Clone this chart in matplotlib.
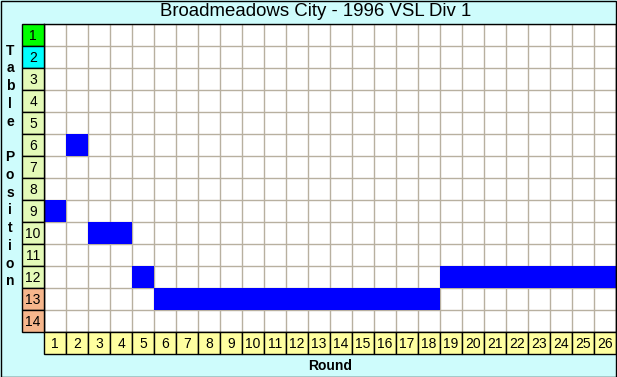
import numpy as np
import matplotlib.pyplot as plt
from matplotlib.patches import Rectangle

plt.rcParams['font.family'] = ['Liberation Sans', 'DejaVu Sans']

title = 'Broadmeadows City - 1996 VSL Div 1'
rounds = list(range(1, 27))
# ladder position after each round
positions = [9, 6, 10, 10, 12] + [13] * 13 + [12] * 8
table_rows = list(range(1, 15))
row_colors = ['#00ff00', '#00ffff'] + ['#e4fab8'] * 10 + ['#f6b68c'] * 2

W, H = 617, 377
bg = '#cefcfc'
grid_col = '#b8b0a0'

fig = plt.figure(figsize=(W / 100, H / 100), dpi=100)
fig.patch.set_facecolor(bg)

# main grid area in pixel terms
ax = fig.add_axes([44 / W, 1 - 332 / H, 572 / W, 308 / H])
ax.set_facecolor('white')
ax.set_xlim(0, len(rounds))
ax.set_ylim(len(table_rows), 0)
ax.set_xticks(range(len(rounds) + 1))
ax.set_yticks(range(len(table_rows) + 1))
ax.tick_params(length=0, labelbottom=False, labelleft=False)
ax.grid(True, color=grid_col, lw=1.0)
ax.set_axisbelow(True)
for s in ax.spines.values():
    s.set_color('black')
    s.set_linewidth(1.0)

# blue blocks for position held each round
ax.bar(np.array(rounds) - 1, 1, bottom=np.array(positions) - 1, width=1,
       align='edge', color='#0000ff', zorder=2)

# coloured position cells on the left
for p, c in zip(table_rows, row_colors):
    ax.add_patch(Rectangle((-1, p - 1), 1, 1, facecolor=c, edgecolor='black',
                           lw=1.0, clip_on=False, zorder=3))
    ax.text(-0.5, p - 0.45, str(p), ha='center', va='center', fontsize=10,
            clip_on=False, zorder=4)

# round number cells along the bottom
for r in rounds:
    ax.add_patch(Rectangle((r - 1, len(table_rows)), 1, 1, facecolor='#ffffa0',
                           edgecolor='black', lw=1.0, clip_on=False, zorder=3))
    ax.text(r - 0.5, len(table_rows) + 0.55, str(r), ha='center', va='center',
            fontsize=10, clip_on=False, zorder=4)

fig.text(316 / W, 1 - 12 / H, title, ha='center', va='center', fontsize=13.4)
fig.text(330 / W, 1 - 366 / H, 'Round', ha='center', va='center',
         fontsize=10, fontweight='bold')
fig.text(10 / W, 1 - 166 / H, '\n'.join('Table Position'), ha='center',
         va='center', fontsize=10, fontweight='bold', linespacing=1.34)

# outer frame
fig.add_artist(Rectangle((0.5 / W, 0.5 / H), 1 - 2 / W, 1 - 1.5 / H,
                         transform=fig.transFigure, fill=False,
                         edgecolor='black', lw=1.0))

fig.savefig('out.png', dpi=100, facecolor=bg)
